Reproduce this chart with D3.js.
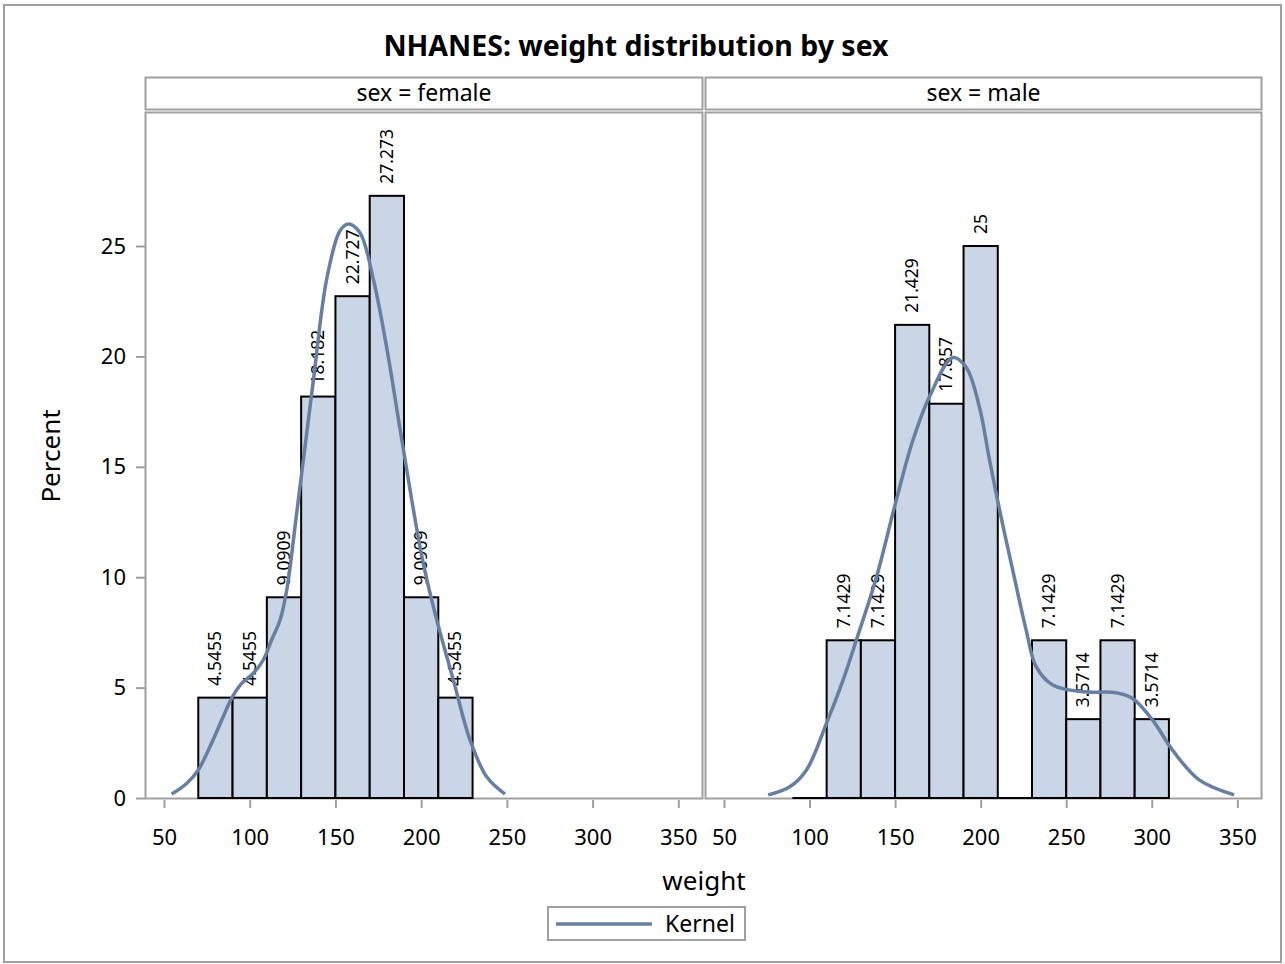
<!DOCTYPE html>
<html><head><meta charset="utf-8">
<script src="https://cdn.jsdelivr.net/npm/d3@7"></script>
<style>body{margin:0;background:#fff}svg{display:block}text{font-family:"Noto Sans","DejaVu Sans",sans-serif;fill:#000}</style>
</head><body><svg id="c" width="1285" height="964"></svg>
<script>
// ---- data ----
const panels = ["female", "male"];
const binWidth = 20;
const femaleBinStarts = [70, 90, 110, 130, 150, 170, 190, 210];
const femalePercent = [4.5455, 4.5455, 9.0909, 18.182, 22.727, 27.273, 9.0909, 4.5455];
const femaleLabels = ["4.5455", "4.5455", "9.0909", "18.182", "22.727", "27.273", "9.0909", "4.5455"];
const maleBinStarts = [90, 110, 130, 150, 170, 190, 210, 230, 250, 270, 290];
const malePercent = [0, 7.1429, 7.1429, 21.429, 17.857, 25, 0, 7.1429, 3.5714, 7.1429, 3.5714];
const maleLabels = ["", "7.1429", "7.1429", "21.429", "17.857", "25", "", "7.1429", "3.5714", "7.1429", "3.5714"];
const femaleKernelW = [54.5, 63.2, 70.0, 76.8, 83.7, 89.5, 95.3, 102.1, 107.9, 112.8, 117.7, 121.6, 127.4, 137.1, 144.9, 152.7, 157.5, 164.3, 172.1, 179.9, 187.7, 194.5, 201.3, 209.1, 218.8, 228.5, 238.2, 248.9];
const femaleKernelV = [0.18, 0.66, 1.27, 2.32, 3.53, 4.52, 5.19, 5.65, 6.25, 7.16, 8.06, 9.42, 12.9, 18.9, 23.5, 25.7, 26.0, 25.6, 23.5, 20.4, 16.7, 13.5, 10.6, 8.06, 5.34, 2.63, 0.96, 0.18];
const maleKernelW = [75.8, 88.5, 98.2, 109.9, 119.6, 127.4, 139.1, 150.7, 160.4, 170.2, 183.8, 191.6, 199.3, 205.2, 212.0, 218.8, 226.6, 232.4, 242.1, 259.6, 279.1, 288.8, 300.5, 312.1, 327.7, 348.1];
const maleKernelV = [0.14, 0.51, 1.27, 3.38, 5.34, 7.16, 10.0, 13.5, 16.2, 18.2, 19.95, 19.5, 17.7, 15.3, 12.7, 10.3, 7.6, 5.95, 5.12, 4.81, 4.77, 4.51, 3.53, 2.17, 0.82, 0.14];
const xTicks = [50, 100, 150, 200, 250, 300, 350];
const yTicks = [0, 5, 10, 15, 20, 25];

const titleText = "NHANES: weight distribution by sex";
const xLabel = "weight", yLabel = "Percent", legendLabel = "Kernel";

// ---- style ----
const frameCol = "#a0a0a0", barFill = "#cad5e5", kernelCol = "#667fa2";
const svg = d3.select("#c");

svg.append("rect").attr("x", 4).attr("y", 5).attr("width", 1277).attr("height", 957)
  .attr("fill", "#fff").attr("stroke", frameCol).attr("stroke-width", 2);

svg.append("text").attr("x", 636).attr("y", 56).attr("text-anchor", "middle")
  .style("font-size", "28.5px").style("font-weight", "bold").text(titleText);

const plotTop = 112, plotBottom = 798;
const y = d3.scaleLinear().domain([0, 31.07]).range([plotBottom, plotTop]);

const panelX = [[145, 703], [705, 1262]];
const data = {
  female: {starts: femaleBinStarts, pct: femalePercent, labels: femaleLabels, kw: femaleKernelW, kv: femaleKernelV},
  male: {starts: maleBinStarts, pct: malePercent, labels: maleLabels, kw: maleKernelW, kv: maleKernelV}
};

panels.forEach((p, i) => {
  const [x0, x1] = panelX[i];
  const x = d3.scaleLinear().domain([38.92, 364.4]).range([x0, x1]);
  const g = svg.append("g");
  // header
  g.append("rect").attr("x", x0 + 0.5).attr("y", 77.5).attr("width", x1 - x0 - 1).attr("height", 32)
    .attr("fill", "#fff").attr("stroke", frameCol).attr("stroke-width", 2);
  g.append("text").attr("x", (x0 + x1) / 2).attr("y", 101).attr("text-anchor", "middle")
    .style("font-size", "23px").text("sex = " + p);
  // plot frame
  g.append("rect").attr("x", x0 + 0.5).attr("y", plotTop + 0.5).attr("width", x1 - x0 - 1).attr("height", plotBottom - plotTop)
    .attr("fill", "#fff").attr("stroke", frameCol).attr("stroke-width", 2);
  const d = data[p];
  const bins = d.starts.map((s, k) => ({s, v: d.pct[k], lab: d.labels[k]}));
  g.selectAll("rect.bar").data(bins.filter(b => b.v > 0)).enter().append("rect").attr("class", "bar")
    .attr("x", b => x(b.s)).attr("width", b => x(b.s + binWidth) - x(b.s))
    .attr("y", b => y(b.v)).attr("height", b => y(0) - y(b.v))
    .attr("fill", barFill).attr("stroke", "#000").attr("stroke-width", 2);
  g.selectAll("line.zero").data(bins.filter(b => b.v === 0)).enter().append("line").attr("class", "zero")
    .attr("x1", b => x(b.s)).attr("x2", b => x(b.s + binWidth))
    .attr("y1", y(0)).attr("y2", y(0)).attr("stroke", "#000").attr("stroke-width", 2);
  g.selectAll("text.lab").data(bins.filter(b => b.lab !== "")).enter().append("text").attr("class", "lab")
    .attr("transform", b => `translate(${x(b.s + binWidth / 2) + 6},${y(b.v) - 12}) rotate(-90)`)
    .style("font-size", "17.5px").text(b => b.lab);
  const pts = d.kw.map((w, k) => [w, d.kv[k]]);
  g.append("path").datum(pts).attr("fill", "none").attr("stroke", kernelCol).attr("stroke-width", 3.5)
    .attr("d", d3.line().x(q => x(q[0])).y(q => y(q[1])).curve(d3.curveCatmullRom.alpha(0.5)));
  // x axis
  const ax = g.append("g").attr("transform", `translate(0,${plotBottom})`)
    .call(d3.axisBottom(x).tickValues(xTicks).tickSize(10).tickPadding(21).tickFormat(d3.format("d")));
  ax.select(".domain").remove();
  ax.selectAll("line").attr("stroke", frameCol).attr("stroke-width", 2).attr("y1", 2);
  ax.selectAll("text").style("font-size", "22px").attr("fill", "#000");
  // y axis on left panel
  if (i === 0) {
    const ay = g.append("g").attr("transform", `translate(${x0},0)`)
      .call(d3.axisLeft(y).tickValues(yTicks).tickSize(9).tickPadding(10));
    ay.select(".domain").remove();
    ay.selectAll("line").attr("stroke", frameCol).attr("stroke-width", 2);
    ay.selectAll("text").style("font-size", "22px").attr("fill", "#000");
  }
});

svg.append("text").attr("transform", "translate(60,456) rotate(-90)").attr("text-anchor", "middle")
  .style("font-size", "26px").text(yLabel);
svg.append("text").attr("x", 704).attr("y", 890).attr("text-anchor", "middle")
  .style("font-size", "26px").text(xLabel);

// legend
const lg = svg.append("g");
lg.append("rect").attr("x", 548).attr("y", 907).attr("width", 197).attr("height", 33)
  .attr("fill", "#fff").attr("stroke", frameCol).attr("stroke-width", 2);
lg.append("line").attr("x1", 556).attr("x2", 652).attr("y1", 924).attr("y2", 924)
  .attr("stroke", kernelCol).attr("stroke-width", 3.5);
lg.append("text").attr("x", 665).attr("y", 932).style("font-size", "23px").text(legendLabel);
</script></body></html>
